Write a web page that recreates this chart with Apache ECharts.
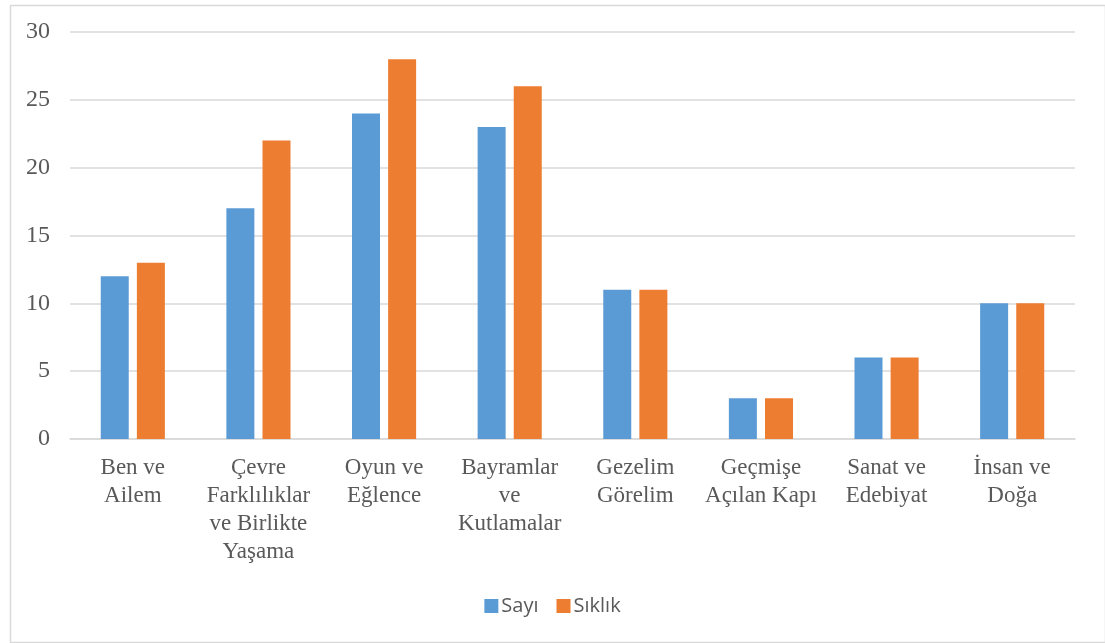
<!DOCTYPE html>
<html><head><meta charset="utf-8">
<script src="https://cdn.jsdelivr.net/npm/echarts@6/dist/echarts.min.js"></script>
<style>html,body{margin:0;padding:0;background:#fff}#c{width:1105px;height:643px}</style>
</head><body><div id="c"></div>
<script>
const categories = ["Ben ve\nAilem", "Çevre\nFarklılıklar\nve Birlikte\nYaşama", "Oyun ve\nEğlence", "Bayramlar\nve\nKutlamalar", "Gezelim\nGörelim", "Geçmişe\nAçılan Kapı", "Sanat ve\nEdebiyat", "İnsan ve\nDoğa"];
const sayi = [12, 17, 24, 23, 11, 3, 6, 10];
const siklik = [13, 22, 28, 26, 11, 3, 6, 10];
const chart = echarts.init(document.getElementById('c'));
chart.setOption({
  animation: false,
  graphic: [{type: 'rect', left: 8, top: 3, shape: {width: 1095, height: 637}, style: {fill: 'none', stroke: '#d9d9d9', lineWidth: 1.5}}],
  grid: {left: 70, right: 30, top: 32, bottom: 204},
  legend: {
    top: 591, left: 'center', itemWidth: 14, itemHeight: 14, itemGap: 18, icon: 'rect',
    textStyle: {fontFamily: "'Open Sans', sans-serif", fontSize: 20, color: '#595959', padding: [0, 0, 0, -2]},
    data: ['Sayı', 'Sıklık']
  },
  xAxis: {
    type: 'category', data: categories,
    axisLine: {lineStyle: {color: '#d9d9d9', width: 1.5}},
    axisTick: {show: false},
    axisLabel: {interval: 0, margin: 15, fontFamily: "'Liberation Serif', serif", fontSize: 23, color: '#595959', lineHeight: 28}
  },
  yAxis: {
    type: 'value', min: 0, max: 30, interval: 5,
    axisLine: {show: false}, axisTick: {show: false},
    splitLine: {lineStyle: {color: '#d9d9d9', width: 1.5}},
    axisLabel: {margin: 20, fontFamily: "'Liberation Serif', serif", fontSize: 24, color: '#595959'}
  },
  series: [
    {name: 'Sayı', type: 'bar', data: sayi, barWidth: 28, barGap: '29%', itemStyle: {color: '#5B9BD5'}},
    {name: 'Sıklık', type: 'bar', data: siklik, barWidth: 28, itemStyle: {color: '#ED7D31'}}
  ]
});
</script></body></html>
